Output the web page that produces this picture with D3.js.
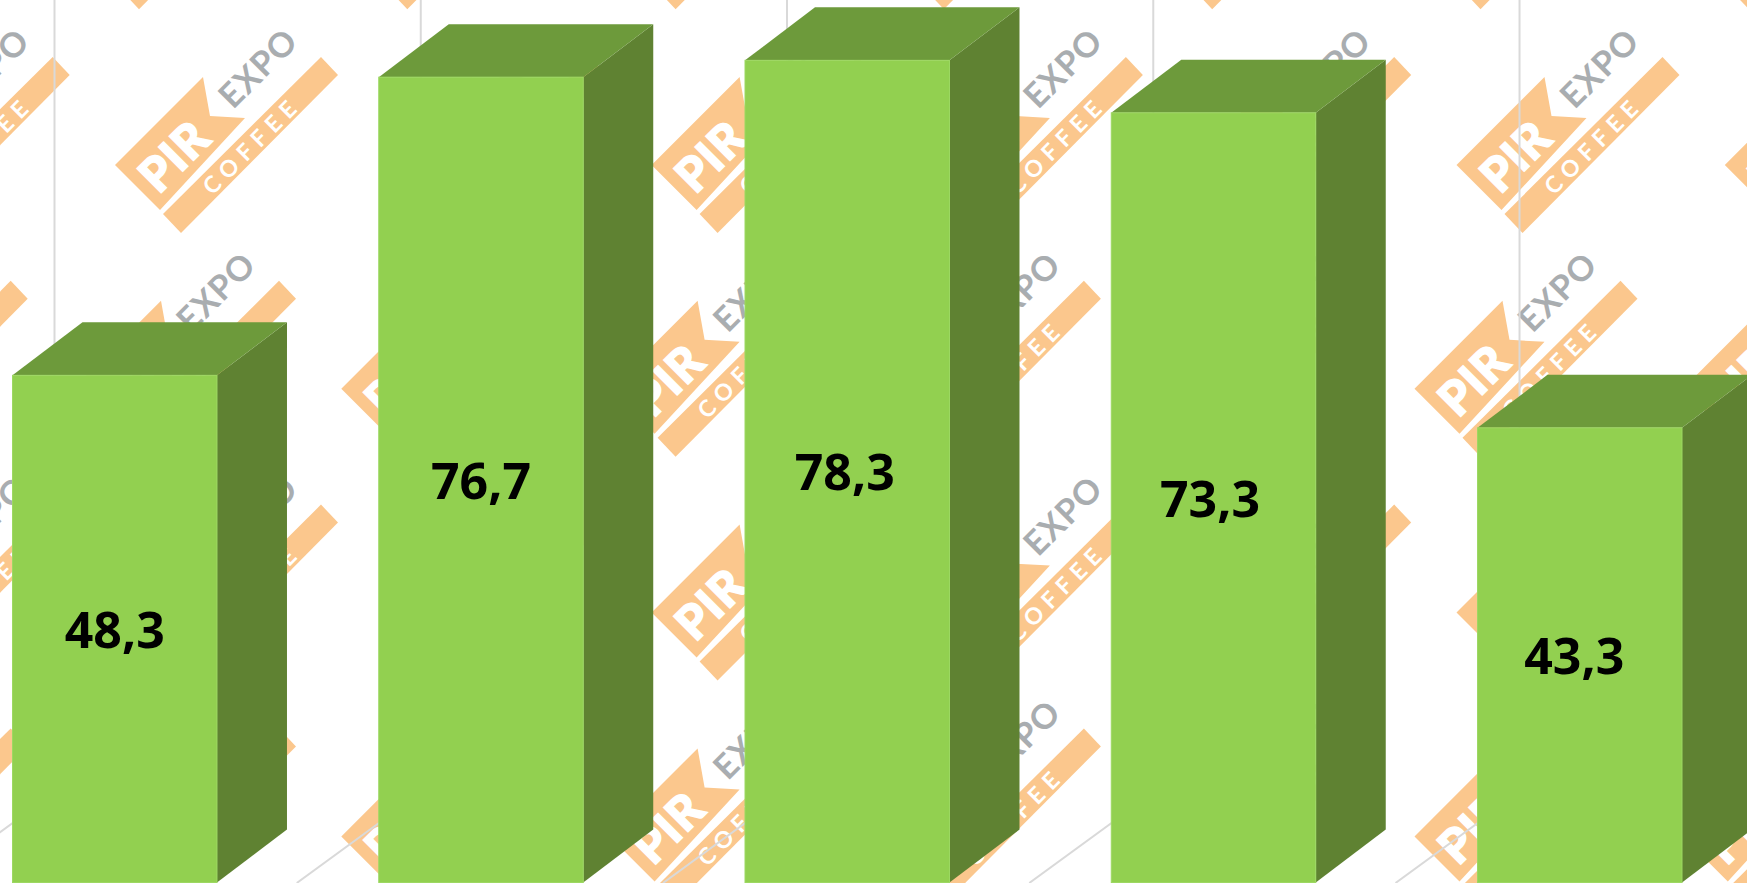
<!DOCTYPE html>
<html>
<head>
<meta charset="utf-8">
<script src="https://cdnjs.cloudflare.com/ajax/libs/d3/7.8.5/d3.min.js"></script>
<style>html,body{margin:0;padding:0;background:#fff;overflow:hidden}svg{display:block}</style>
</head>
<body>
<script>
const categories = ["A", "B", "C", "D", "E"];
const values = [48.3, 76.7, 78.3, 73.3, 43.3];
const valueLabels = ["48,3", "76,7", "78,3", "73,3", "43,3"];

const W = 1747, H = 883;
const baseY = 882.5, pxPerUnit = 10.5;
const depthX = 70, depthY = 53;
const wallDrop = 90, wallOffsetX = 42, floorRunX = 124;
const labelNudge = [0, 0, -2.5, -3.5, -5.5];

const x = d3.scaleBand().domain(categories).range([12.5, 1682]).paddingInner(0.4417).paddingOuter(0);
const y = d3.scaleLinear().domain([0, baseY / pxPerUnit]).range([baseY, 0]);

const svg = d3.select("body").append("svg").attr("width", W).attr("height", H).attr("viewBox", [0, 0, W, H]);
svg.append("rect").attr("width", W).attr("height", H).attr("fill", "#fff");

/* background watermark: tiles that touch the page */
const tileX = 268.3, tileY = 223.8;
const tiles = [];
d3.range(-1, 5).forEach(r => d3.range(-1, 8).forEach(c => {
  const t = { tx: (r % 2 === 0 ? 73 : 115) + c * tileX, ty: 165 + (r - 1) * tileY };
  if (t.tx + 223 > 0 && t.tx < W && t.ty + 68 > 0 && t.ty - 108 < H) tiles.push(t);
}));
const ORANGE = "#fbc78d", GREY = "#a9adb0";
const logo = svg.append("g").selectAll("g").data(tiles).join("g")
  .attr("transform", d => `translate(${d.tx},${d.ty})`);
logo.append("path").attr("fill", ORANGE).attr("d", "M0,0L88,-88L95,-49L130,-47L45,45Z");
logo.append("path").attr("fill", ORANGE).attr("d", "M48,49L206,-108L223,-90L66,68Z");
logo.append("text").text("PIR").attr("transform", "translate(59,-9) rotate(-45)")
  .attr("text-anchor", "middle").attr("dy", "0.36em").attr("letter-spacing", 1)
  .attr("font-family", "Lato").attr("font-weight", 900).attr("font-size", 47)
  .attr("fill", "#fff").attr("stroke", "#fff").attr("stroke-width", 1.6);
logo.append("text").text("COFFEE").attr("transform", "translate(137,-20) rotate(-45)")
  .attr("text-anchor", "middle").attr("dy", "0.36em").attr("letter-spacing", 7)
  .attr("font-family", "Lato").attr("font-weight", 700).attr("font-size", 23).attr("fill", "#fff");
logo.append("text").text("EXPO").attr("transform", "translate(143,-97) rotate(-45)")
  .attr("text-anchor", "middle").attr("dy", "0.36em").attr("letter-spacing", 1)
  .attr("font-family", "Lato").attr("font-weight", 700).attr("font-size", 34).attr("fill", GREY);

/* wall and floor gridlines */
const grid = svg.append("g").attr("stroke", "#d9d9d9").attr("stroke-width", 2).attr("fill", "none");
grid.selectAll("path").data(categories).join("path")
  .attr("d", c => {
    const gx = x(c) + wallOffsetX, gy = baseY - wallDrop;
    return `M${gx},0L${gx},${gy}L${gx - floorRunX},${H}`;
  });

/* 3D bars */
const bars = svg.append("g").selectAll("g").data(categories).join("g");
const bw = x.bandwidth();
const val = c => values[categories.indexOf(c)];
bars.append("path").attr("fill", "#5f8232")
  .attr("d", c => {
    const x1 = x(c) + bw, t = y(val(c));
    return `M${x1},${t}L${x1 + depthX},${t - depthY}L${x1 + depthX},${baseY - depthY}L${x1},${baseY}Z`;
  });
bars.append("path").attr("fill", "#6d9a3b")
  .attr("d", c => {
    const x0 = x(c), t = y(val(c));
    return `M${x0},${t}L${x0 + depthX},${t - depthY}L${x0 + bw + depthX},${t - depthY}L${x0 + bw},${t}Z`;
  });
bars.append("rect").attr("fill", "#92d050").attr("stroke", "#9dd862").attr("stroke-width", 1)
  .attr("x", c => x(c)).attr("width", bw)
  .attr("y", c => y(val(c))).attr("height", c => baseY - y(val(c)));
bars.append("text").text(c => valueLabels[categories.indexOf(c)])
  .attr("x", (c, i) => x(c) + bw / 2 + labelNudge[i])
  .attr("y", c => (y(val(c)) + baseY) / 2 + 1)
  .attr("dy", "0.36em").attr("text-anchor", "middle")
  .attr("font-family", "'Noto Sans'").attr("font-weight", 700).attr("font-size", 50).attr("fill", "#000");
</script>
</body>
</html>
